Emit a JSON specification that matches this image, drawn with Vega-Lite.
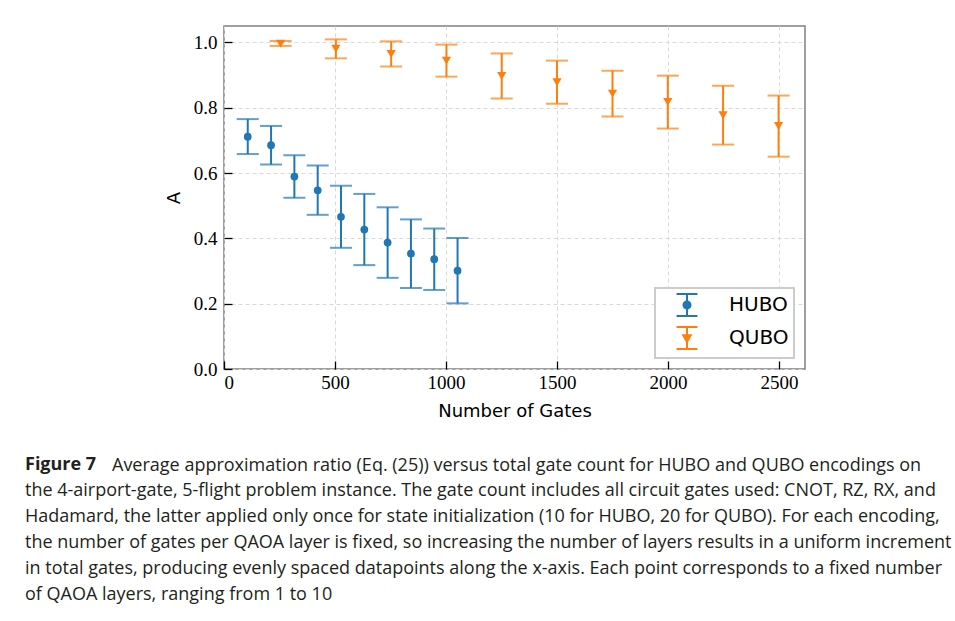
{
  "$schema": "https://vega.github.io/schema/vega-lite/v6.json",
  "autosize": {"type": "pad"},
  "padding": {"left": 25, "top": 25, "right": 5, "bottom": 5},
  "background": "white",
  "title": {
    "text": "Figure 7",
    "subtitle": [
      "the 4-airport-gate, 5-flight problem instance. The gate count includes all circuit gates used: CNOT, RZ, RX, and",
      "Hadamard, the latter applied only once for state initialization (10 for HUBO, 20 for QUBO). For each encoding,",
      "the number of gates per QAOA layer is fixed, so increasing the number of layers results in a uniform increment",
      "in total gates, producing evenly spaced datapoints along the x-axis. Each point corresponds to a fixed number",
      "of QAOA layers, ranging from 1 to 10"
    ],
    "orient": "bottom",
    "anchor": "start",
    "frame": "group",
    "dx": -199,
    "offset": -20,
    "font": "Open Sans",
    "fontSize": 18,
    "fontWeight": "bold",
    "color": "#231f20",
    "lineHeight": 26,
    "subtitleFont": "Open Sans",
    "subtitleFontSize": 18,
    "subtitleFontWeight": "normal",
    "subtitleColor": "#231f20",
    "subtitleLineHeight": 26,
    "subtitlePadding": 8
  },
  "resolve": {"legend": {"fill": "independent", "stroke": "independent", "shape": "independent"}},
  "vconcat": [
    {
      "width": 581,
      "height": 343,
      "title": {
        "text": "Average approximation ratio (Eq. (25)) versus total gate count for HUBO and QUBO encodings on",
        "orient": "bottom",
        "anchor": "start",
        "frame": "group",
        "dx": -112,
        "offset": 37,
        "font": "Open Sans",
        "fontSize": 18,
        "fontWeight": "normal",
        "color": "#231f20",
        "lineHeight": 26
      },
      "data": {"values": [
        {"series": "HUBO", "x": 107, "y": 0.711, "lo": 0.658, "hi": 0.765},
        {"series": "HUBO", "x": 212, "y": 0.685, "lo": 0.626, "hi": 0.744},
        {"series": "HUBO", "x": 317, "y": 0.589, "lo": 0.524, "hi": 0.654},
        {"series": "HUBO", "x": 422, "y": 0.547, "lo": 0.472, "hi": 0.623},
        {"series": "HUBO", "x": 527, "y": 0.466, "lo": 0.371, "hi": 0.561},
        {"series": "HUBO", "x": 632, "y": 0.427, "lo": 0.318, "hi": 0.536},
        {"series": "HUBO", "x": 737, "y": 0.387, "lo": 0.279, "hi": 0.495},
        {"series": "HUBO", "x": 842, "y": 0.353, "lo": 0.248, "hi": 0.458},
        {"series": "HUBO", "x": 947, "y": 0.336, "lo": 0.242, "hi": 0.430},
        {"series": "HUBO", "x": 1052, "y": 0.301, "lo": 0.201, "hi": 0.401},
        {"series": "QUBO", "x": 255, "y": 0.996, "lo": 0.989, "hi": 1.004},
        {"series": "QUBO", "x": 504, "y": 0.980, "lo": 0.951, "hi": 1.009},
        {"series": "QUBO", "x": 753, "y": 0.964, "lo": 0.926, "hi": 1.003},
        {"series": "QUBO", "x": 1002, "y": 0.944, "lo": 0.895, "hi": 0.993},
        {"series": "QUBO", "x": 1251, "y": 0.897, "lo": 0.828, "hi": 0.966},
        {"series": "QUBO", "x": 1500, "y": 0.878, "lo": 0.812, "hi": 0.944},
        {"series": "QUBO", "x": 1750, "y": 0.843, "lo": 0.773, "hi": 0.913},
        {"series": "QUBO", "x": 1999, "y": 0.817, "lo": 0.736, "hi": 0.898},
        {"series": "QUBO", "x": 2248, "y": 0.777, "lo": 0.687, "hi": 0.867},
        {"series": "QUBO", "x": 2498, "y": 0.744, "lo": 0.650, "hi": 0.837}
      ]},
      "encoding": {
        "x": {
          "field": "x", "type": "quantitative",
          "scale": {"domain": [0, 2617], "nice": false, "zero": false},
          "axis": {"values": [0, 500, 1000, 1500, 2000, 2500], "format": "d", "title": "Number of Gates"}
        }
      },
      "layer": [
        {
          "mark": {"type": "point", "filled": true, "opacity": 0, "size": 484, "strokeWidth": 2},
          "encoding": {
            "y": {"field": "y", "type": "quantitative"},
            "fill": {"field": "series", "type": "nominal", "scale": {"domain": ["HUBO", "QUBO"], "range": ["#1f77b4", "#ff7f0e"]}, "legend": {"title": null}},
            "stroke": {"field": "series", "type": "nominal", "scale": {"domain": ["HUBO", "QUBO"], "range": ["#1f77b4", "#ff7f0e"]}, "legend": {"title": null}},
            "shape": {"field": "series", "type": "nominal", "scale": {"domain": ["HUBO", "QUBO"], "range": [
              "M-0.95,-1H0.95M0,-1V1M-0.95,1H0.95M0.32,0A0.32,0.32,0,1,1,-0.32,0A0.32,0.32,0,1,1,0.32,0Z",
              "M-0.95,-1H0.95M0,-1V1M-0.95,1H0.95M-0.34,-0.26L0.34,-0.26L0,0.36Z"
            ]}, "legend": {"title": null}}
          }
        },
        {
          "mark": {"type": "rule", "strokeWidth": 2},
          "encoding": {
            "y": {"field": "lo", "type": "quantitative",
              "scale": {"domain": [0, 1.05], "nice": false, "zero": false},
              "axis": {"values": [0, 0.2, 0.4, 0.6, 0.8, 1.0], "format": ".1f", "title": "A"}},
            "y2": {"field": "hi"},
            "color": {"field": "series", "type": "nominal", "scale": {"domain": ["HUBO", "QUBO"], "range": ["#1f77b4", "#ff7f0e"]}, "legend": null}
          }
        },
        {
          "mark": {"type": "tick", "orient": "horizontal", "size": 22, "thickness": 2},
          "encoding": {
            "y": {"field": "lo", "type": "quantitative"},
            "color": {"field": "series", "type": "nominal", "legend": null}
          }
        },
        {
          "mark": {"type": "tick", "orient": "horizontal", "size": 22, "thickness": 2},
          "encoding": {
            "y": {"field": "hi", "type": "quantitative"},
            "color": {"field": "series", "type": "nominal", "legend": null}
          }
        },
        {
          "transform": [{"filter": "datum.series === 'HUBO'"}],
          "mark": {"type": "point", "filled": true, "opacity": 1, "shape": "circle", "size": 60},
          "encoding": {
            "y": {"field": "y", "type": "quantitative"},
            "color": {"field": "series", "type": "nominal", "legend": null}
          }
        },
        {
          "transform": [{"filter": "datum.series === 'QUBO'"}],
          "mark": {"type": "point", "filled": true, "opacity": 1, "shape": "triangle-down", "size": 85},
          "encoding": {
            "y": {"field": "y", "type": "quantitative"},
            "color": {"field": "series", "type": "nominal", "legend": null}
          }
        }
      ]
    }
  ],
  "config": {
    "view": {"stroke": "#808080", "strokeWidth": 1.5},
    "axis": {
      "domain": false,
      "grid": true,
      "gridColor": "#d9d9d9",
      "gridDash": [4, 3],
      "gridWidth": 1,
      "ticks": true,
      "tickColor": "#000000",
      "tickWidth": 1.3,
      "tickSize": -8,
      "labelFont": "Liberation Serif",
      "labelFontSize": 19,
      "labelColor": "#000000",
      "titleFont": "DejaVu Sans",
      "titleFontSize": 18,
      "titleFontWeight": "normal",
      "titleColor": "#000000"
    },
    "axisY": {"titlePadding": 10, "labelPadding": 15},
    "axisX": {"titlePadding": 10, "labelPadding": 12},
    "legend": {
      "orient": "bottom-right",
      "offset": 11,
      "padding": 5,
      "rowPadding": 3,
      "strokeColor": "#cccccc",
      "strokeWidth": 2,
      "cornerRadius": 0,
      "fillColor": "#ffffff",
      "symbolSize": 484,
      "symbolStrokeWidth": 2,
      "symbolOpacity": 1,
      "symbolOffset": 15,
      "labelOffset": 30,
      "labelFont": "DejaVu Sans",
      "labelFontSize": 20,
      "labelColor": "#000000"
    }
  }
}
